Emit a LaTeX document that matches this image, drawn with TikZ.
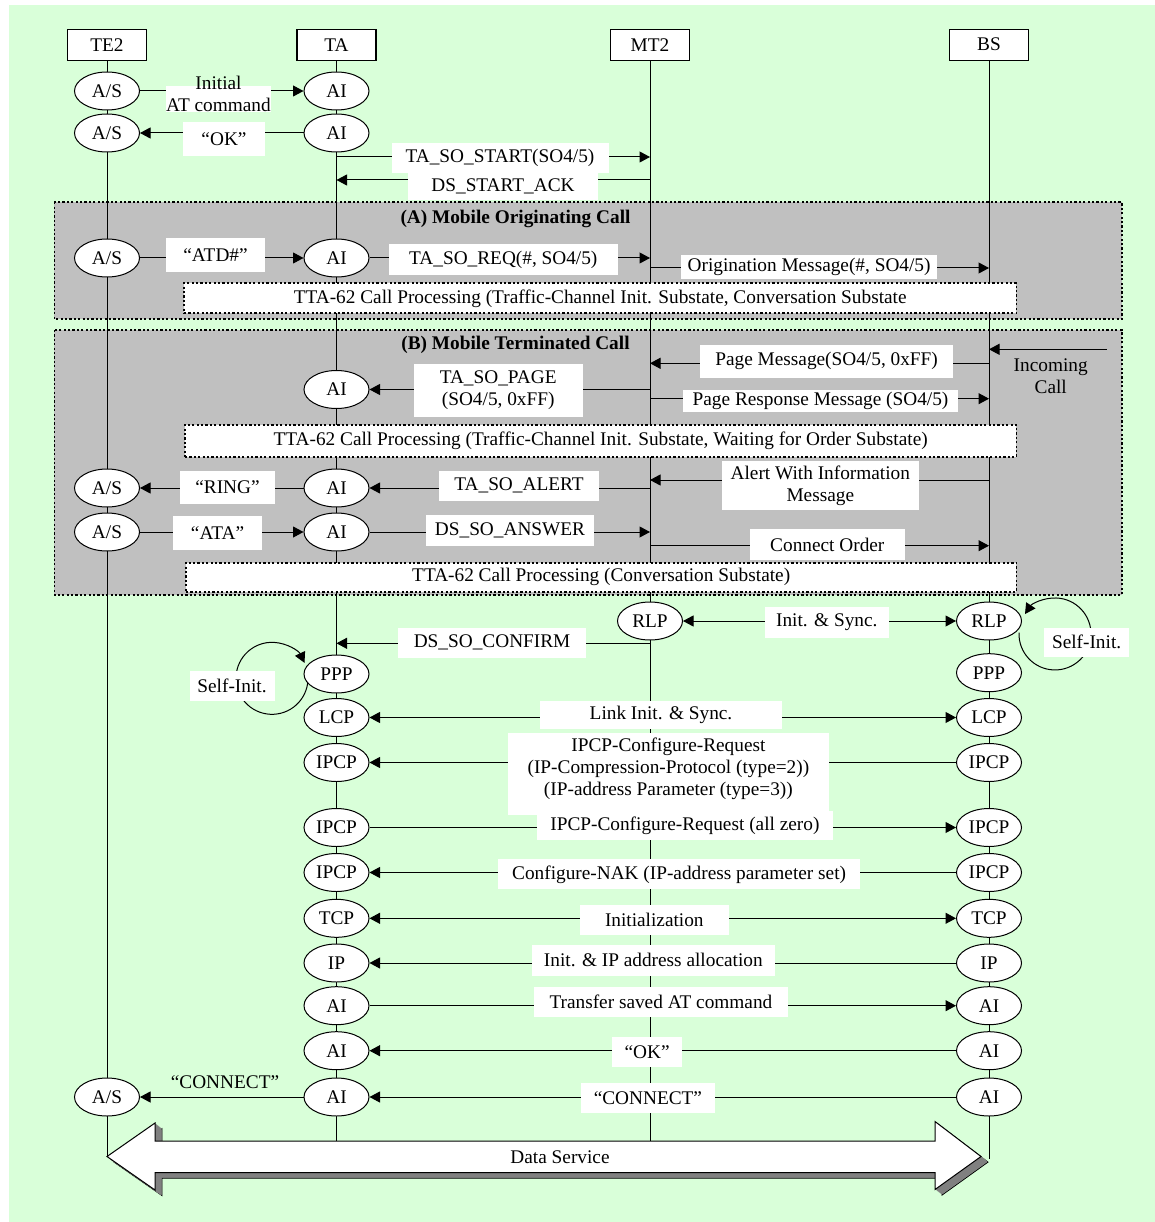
\documentclass[tikz,border=0pt]{standalone}
\usepackage{fontspec}
\setmainfont{Liberation Serif}
\usetikzlibrary{arrows.meta,shapes.geometric}
\definecolor{sheet}{RGB}{217,255,217}
\definecolor{zone}{RGB}{192,192,192}
\definecolor{extr}{RGB}{128,128,128}
\pgfdeclarelayer{back}
\pgfdeclarelayer{wires}
\pgfsetlayers{back,wires,main}
% outline of the wide double arrow at the bottom
\newcommand\dataarrowpath{(107,-1156.5) -- (155,-1123) -- (155,-1141) -- (935,-1141) -- (935,-1121.5) -- (981,-1156.5) -- (935,-1189.5) -- (935,-1172.5) -- (155,-1172.5) -- (155,-1190) -- cycle}

\begin{document}
\begin{tikzpicture}[x=1pt,y=1pt,
  font=\fontsize{19.3pt}{22pt}\selectfont,
  >={Triangle[length=10.5pt,width=11pt]},
  ent/.style={draw,line width=1.1pt,fill=white,minimum width=79pt,minimum height=31pt,inner sep=0pt},
  st/.style={ellipse,draw,line width=1pt,fill=white,minimum width=65pt,minimum height=38pt,inner sep=0pt},
  lbl/.style={fill=white,inner sep=0pt,align=center},
  dotline/.style={draw,line width=1.7pt,dash pattern=on 2.2pt off 2.2pt},
  zonebox/.style={fill=zone,dotline},
  ttabox/.style={fill=white,dotline,inner sep=0pt,minimum height=30pt},
  life/.style={line width=1pt},
  msg/.style={line width=1pt,->},
  both/.style={line width=1pt,<->},
  boldtitle/.style={font=\fontsize{19.3pt}{22pt}\selectfont\bfseries},
]
\useasboundingbox (0,0) rectangle (1155,-1222);

% ---------- backgrounds ----------
\begin{pgfonlayer}{back}
  \fill[white] (0,0) rectangle (1155,-1222);
  \fill[sheet] (9,-5) rectangle (1155,-1222);
  \path[zonebox] (54.4,-202.3) rectangle (1121.7,-319.3);
  \path[zonebox] (54.4,-330) rectangle (1121.7,-595);
\end{pgfonlayer}

% ---------- entities ----------
\node[ent] (te2) at (107,-44.7) {TE2};
\node[ent] (ta)  at (336.5,-44.7) {TA};
\node[ent] (mt2) at (650,-44.7) {MT2};
\node[ent] (bs)  at (989,-44.7) {BS};

% ---------- states on TE2 ----------
\node[st] (as1) at (107,-91) {A/S};
\node[st] (as2) at (107,-133) {A/S};
\node[st] (as3) at (107,-258) {A/S};
\node[st] (as4) at (107,-488) {A/S};
\node[st] (as5) at (107,-532) {A/S};
\node[st] (as6) at (107,-1097) {A/S};

% ---------- states on TA ----------
\node[st] (ai1) at (336.5,-91) {AI};
\node[st] (ai2) at (336.5,-133) {AI};
\node[st] (ai3) at (336.5,-258) {AI};
\node[st] (ai4) at (336.5,-389.5) {AI};
\node[st] (ai5) at (336.5,-488) {AI};
\node[st] (ai6) at (336.5,-532) {AI};
\node[st] (ppp) at (336.5,-674) {PPP};
\node[st] (lcp) at (336.5,-717.5) {LCP};
\node[st] (ipcpa) at (336.5,-762.5) {IPCP};
\node[st] (ipcpb) at (336.5,-827.5) {IPCP};
\node[st] (ipcpc) at (336.5,-872.5) {IPCP};
\node[st] (tcp) at (336.5,-918.3) {TCP};
\node[st] (ip) at (336.5,-963) {IP};
\node[st] (aia) at (336.5,-1005.7) {AI};
\node[st] (aib) at (336.5,-1050.7) {AI};
\node[st] (aic) at (336.5,-1097) {AI};

% ---------- states on MT2 and BS ----------
\node[st] (rlpm) at (650,-621) {RLP};
\node[st] (rlpr) at (989,-621) {RLP};
\node[st] (pppr) at (989,-672.7) {PPP};
\node[st] (lcpr) at (989,-717.5) {LCP};
\node[st] (ipcpar) at (989,-762.5) {IPCP};
\node[st] (ipcpbr) at (989,-827.5) {IPCP};
\node[st] (ipcpcr) at (989,-872.5) {IPCP};
\node[st] (tcpr) at (989,-918.3) {TCP};
\node[st] (ipr) at (989,-963) {IP};
\node[st] (aiar) at (989,-1005.7) {AI};
\node[st] (aibr) at (989,-1050.7) {AI};
\node[st] (aicr) at (989,-1097) {AI};

% ---------- free ends on the lifelines ----------
\coordinate (te2end) at (107,-1157);
\coordinate (taend)  at (336.5,-1141);
\coordinate (mt2end) at (650,-1141);
\coordinate (bsend)  at (989,-1159);
\coordinate (sA) at (336.5,-157);  \coordinate (sB) at (650,-157);
\coordinate (kA) at (650,-180);    \coordinate (kB) at (336.5,-180);
\coordinate (oA) at (650,-268);    \coordinate (oB) at (989,-268);
\coordinate (iA) at (1106.5,-349.3); \coordinate (iB) at (989,-349.3);
\coordinate (pA) at (989,-363.3);  \coordinate (pB) at (650,-363.3);
\coordinate (rA) at (650,-398.7);  \coordinate (rB) at (989,-398.7);
\coordinate (wA) at (989,-480);    \coordinate (wB) at (650,-480);
\coordinate (cA) at (650,-545.7);  \coordinate (cB) at (989,-545.7);
\coordinate (fA) at (650,-643.3);  \coordinate (fB) at (336.5,-643.3);
\coordinate (loopL) at (307.95,-680.2);
\coordinate (loopR) at (1019.0,-632.7);

% ---------- lifelines, messages, loops ----------
\begin{pgfonlayer}{wires}
  \draw[life] (te2.south) -- (te2end);
  \draw[life] (ta.south) -- (taend);
  \draw[life] (mt2.south) -- (mt2end);
  \draw[life] (bs.south) -- (bsend);

  \draw[msg] (as1) -- (ai1);
  \draw[msg] (ai2) -- (as2);
  \draw[msg] (sA) -- (sB);
  \draw[msg] (kA) -- (kB);
  \draw[msg] (as3) -- (ai3);
  \draw[msg] (ai3) -- (ai3 -| mt2);
  \draw[msg] (oA) -- (oB);
  \draw[msg] (iA) -- (iB);
  \draw[msg] (pA) -- (pB);
  \draw[msg] (ai4 -| mt2) -- (ai4);
  \draw[msg] (rA) -- (rB);
  \draw[msg] (wA) -- (wB);
  \draw[msg] (ai5) -- (as4);
  \draw[msg] (ai5 -| mt2) -- (ai5);
  \draw[msg] (as5) -- (ai6);
  \draw[msg] (ai6) -- (ai6 -| mt2);
  \draw[msg] (cA) -- (cB);
  \draw[both] (rlpm) -- (rlpr);
  \draw[msg] (fA) -- (fB);
  \draw[both] (lcp) -- (lcpr);
  \draw[msg] (ipcpar) -- (ipcpa);
  \draw[msg] (ipcpb) -- (ipcpbr);
  \draw[msg] (ipcpcr) -- (ipcpc);
  \draw[both] (tcp) -- (tcpr);
  \draw[msg] (ipr) -- (ip);
  \draw[msg] (aia) -- (aiar);
  \draw[msg] (aibr) -- (aib);
  \draw[msg] (aicr) -- (aic);
  \draw[msg] (aic) -- (as6);

  \draw[msg] (loopL) arc[start angle=-3, end angle=-334.6, radius=36];
  \draw[msg] (loopR) arc[start angle=178, end angle=506.4, radius=36];
\end{pgfonlayer}

% ---------- message labels ----------
\fill[white] (166,-86) rectangle (271,-112);
\node[align=center] (l1) at (218.5,-93.5) {Initial\\AT command};
\node[lbl,minimum width=82pt,minimum height=34pt] (l2) at (224,-139) {“OK”};
\node[lbl,minimum width=217pt,minimum height=30pt] (l3) at (500,-158) {TA\_SO\_START(SO4/5)};
\node[lbl,minimum width=190pt,minimum height=27pt] (l4) at (503,-186.5) {DS\_START\_ACK};
\node[boldtitle] (tA) at (515.5,-219) {(A) Mobile Originating Call};
\node[lbl,minimum width=99pt,minimum height=34pt] (l6) at (215.5,-255) {“ATD\#”};
\node[lbl,minimum width=228.7pt,minimum height=31pt] (l7) at (503.3,-259.5) {TA\_SO\_REQ(\#, SO4/5)};
\node[lbl,minimum width=255.4pt,minimum height=24pt] (l8) at (809.1,-267) {Origination Message(\#, SO4/5)};
\node[ttabox,minimum width=832.5pt] (tta1) at (600.2,-298.3) {TTA-62 Call Processing (Traffic-Channel Init. Substate, Conversation Substate};

\node[boldtitle] (tB) at (515.5,-345) {(B) Mobile Terminated Call};
\node[lbl,minimum width=252.4pt,minimum height=32.7pt] (l11) at (826.6,-361.3) {Page Message(SO4/5, 0xFF)};
\node[align=center] (inc) at (1050.7,-376) {Incoming\\Call};
\node[lbl,minimum width=169pt,minimum height=52.7pt] (l13) at (498.2,-390.3) {TA\_SO\_PAGE\\(SO4/5, 0xFF)};
\node[lbl,minimum width=275.9pt,minimum height=21.7pt] (l14) at (820.5,-400.8) {Page Response Message (SO4/5)};
\node[ttabox,minimum width=831.5pt,minimum height=31.7pt] (tta2) at (600.7,-440.8) {TTA-62 Call Processing (Traffic-Channel Init. Substate, Waiting for Order Substate)};
\node[lbl,minimum width=95pt,minimum height=33pt] (l16) at (227.5,-487.5) {“RING”};
\node[lbl,minimum width=160pt,minimum height=29.7pt] (l17) at (519,-485.8) {TA\_SO\_ALERT};
\node[lbl,minimum width=196.6pt,minimum height=49pt] (l18) at (820.3,-485.5) {Alert With Information\\Message};
\node[lbl,minimum width=89pt,minimum height=34.3pt] (l19) at (217.5,-532.8) {“ATA”};
\node[lbl,minimum width=168pt,minimum height=30.7pt] (l20) at (510,-530.3) {DS\_SO\_ANSWER};
\node[lbl,minimum width=154.6pt,minimum height=31pt] (l21) at (827.3,-544.5) {Connect Order};
\node[ttabox,minimum width=830.5pt,minimum height=29pt] (tta3) at (601.2,-577.2) {TTA-62 Call Processing (Conversation Substate)};

\node[lbl,minimum width=123.6pt,minimum height=30.7pt] (l23) at (826.8,-622.3) {Init. \& Sync.};
\node[lbl,minimum width=187.3pt,minimum height=30pt] (l24) at (492.1,-642.7) {DS\_SO\_CONFIRM};
\node[lbl,minimum width=85pt,minimum height=29.7pt] (l25) at (232,-685.8) {Self-Init.};
\node[lbl,minimum width=85.4pt,minimum height=29pt] (l26) at (1086.6,-642.2) {Self-Init.};
\node[lbl,minimum width=242pt,minimum height=28.6pt] (l27) at (661,-715) {Link Init. \& Sync.};
\fill[white] (508,-733) rectangle (828.7,-815);
\node[align=center] (l28) at (668.4,-769) {IPCP-Configure-Request\\(IP-Compression-Protocol (type=2))\\(IP-address Parameter (type=3))};
\node[lbl,minimum width=296.7pt,minimum height=29pt] (l29) at (684.9,-825.5) {IPCP-Configure-Request (all zero)};
\node[lbl,minimum width=361.4pt,minimum height=30pt] (l30) at (679.1,-874.3) {Configure-NAK (IP-address parameter set)};
\node[lbl,minimum width=148.5pt,minimum height=30pt] (l31) at (654.3,-920) {Initialization};
\node[lbl,minimum width=243pt,minimum height=30.7pt] (l32) at (653.3,-960.3) {Init. \& IP address allocation};
\node[lbl,minimum width=253.7pt,minimum height=29.4pt] (l33) at (660.9,-1002) {Transfer saved AT command};
\node[lbl,minimum width=70.2pt,minimum height=30pt] (l34) at (647.1,-1052.3) {“OK”};
\node[lbl,minimum width=134pt,minimum height=30pt] (l35) at (647.9,-1097.7) {“CONNECT”};
\node (l36) at (225,-1081.7) {“CONNECT”};

% ---------- data service double arrow with extruded edge ----------
\filldraw[fill=extr,draw=black,line width=0.8pt,shift={(7,-5.6)}] \dataarrowpath;
\foreach \k in {1,...,13} {
  \fill[extr,shift={(\k*0.5,-\k*0.4)}] \dataarrowpath;
}
\filldraw[fill=white,draw=black,line width=1pt] \dataarrowpath;
\node (ds) at (560,-1156.7) {Data Service};

\end{tikzpicture}
\end{document}
